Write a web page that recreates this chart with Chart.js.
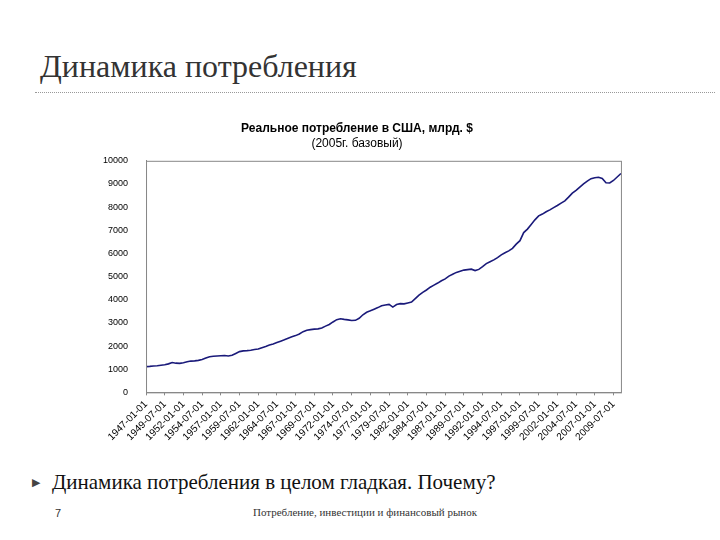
<!DOCTYPE html>
<html><head><meta charset="utf-8">
<script src="https://cdn.jsdelivr.net/npm/chart.js@4"></script>
<style>
body{margin:0;width:720px;height:540px;background:#fff;position:relative;overflow:hidden;font-family:"Liberation Serif",serif;}
#t{position:absolute;left:40px;top:48px;font-size:32px;color:#333;}
#line{position:absolute;left:35px;top:92px;width:680px;border-top:1px dotted #999;}
#cw{position:absolute;left:93px;top:119px;width:532px;height:327px;}
#b{position:absolute;left:32px;top:470px;font-size:21px;color:#111;}
#b span{font-size:11px;color:#444;position:relative;top:-3px;margin-right:12px;}
#n{position:absolute;left:55px;top:507px;font-size:11px;color:#333;font-family:"Liberation Sans",sans-serif;}
#f{position:absolute;left:253px;top:506px;font-size:11px;color:#333;}
</style></head><body>
<div id="t">Динамика потребления</div>
<div id="line"></div>
<div id="cw"><canvas id="c"></canvas></div>
<div id="b"><span>▶</span>Динамика потребления в целом гладкая. Почему?</div>
<div id="n">7</div>
<div id="f">Потребление, инвестиции и финансовый рынок</div>
<script>
const years=[];for(let y=1947;y<=2010;y++)years.push(y);
const labels=[];years.forEach(y=>{labels.push(y+'-01-01');labels.push(y+'-07-01');});
const values=[1110,1120,1135,1150,1170,1190,1230,1290,1260,1250,1280,1320,1350,1360,1380,1420,1480,1540,1560,1570,1580,1590,1570,1600,1680,1760,1790,1800,1820,1850,1870,1930,1980,2040,2090,2150,2210,2270,2340,2400,2450,2520,2620,2680,2710,2730,2740,2780,2860,2930,3040,3140,3180,3150,3130,3100,3110,3200,3350,3460,3520,3590,3660,3740,3770,3800,3680,3790,3830,3820,3860,3900,4050,4200,4320,4420,4540,4630,4720,4820,4900,5020,5100,5180,5230,5280,5300,5320,5260,5310,5430,5560,5640,5720,5820,5940,6030,6110,6220,6400,6550,6900,7050,7250,7450,7620,7700,7800,7880,7980,8070,8170,8270,8430,8600,8720,8860,9000,9120,9230,9270,9290,9240,9050,9040,9150,9300,9450];
const frame={id:'frame',afterDraw(ch){const a=ch.chartArea,c=ch.ctx;c.save();c.strokeStyle='#888';c.lineWidth=1;c.strokeRect(a.left+.5,a.top+.5,a.right-a.left,a.bottom-a.top);c.restore();}};
new Chart(document.getElementById('c'),{type:'line',data:{labels,datasets:[{data:values,borderColor:'#1a1a7a',borderWidth:1.6,pointRadius:0,tension:0}]},
options:{responsive:true,maintainAspectRatio:false,animation:false,
layout:{padding:{left:0,right:4,top:0,bottom:0}},
plugins:{legend:{display:false},tooltip:{enabled:false},
title:{display:true,text:'Реальное потребление в США, млрд. $',font:{family:'Liberation Sans',size:12,weight:'bold'},color:'#000',padding:{top:2,bottom:0}},
subtitle:{display:true,text:'(2005г. базовый)',font:{family:'Liberation Sans',size:12},color:'#000',padding:{top:1,bottom:10}}},
scales:{x:{offset:false,grid:{drawOnChartArea:false,tickLength:3,color:'#888'},border:{color:'#888'},
ticks:{autoSkip:false,maxRotation:45,minRotation:45,color:'#000',font:{family:'Liberation Sans',size:10},callback:function(v,i){return i%5===0?labels[i]:null;}}},
y:{min:0,max:10000,grid:{display:false},border:{color:'#888'},ticks:{stepSize:1000,color:'#000',font:{family:'Liberation Sans',size:9},padding:10,callback:v=>String(v)}}}},
plugins:[frame]});
</script></body></html>
